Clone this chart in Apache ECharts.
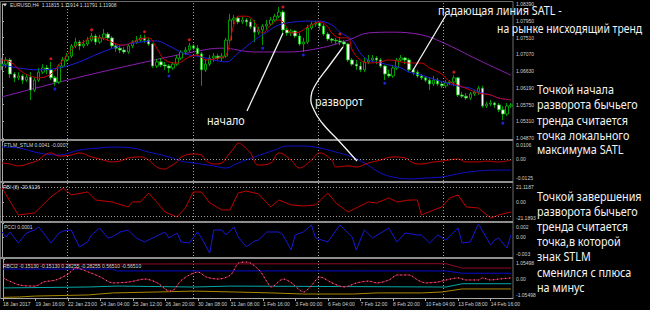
<!DOCTYPE html>
<html><head><meta charset="utf-8">
<script src="https://cdn.jsdelivr.net/npm/echarts@6/dist/echarts.min.js"></script>
<style>html,body{margin:0;padding:0;background:#000}#c{width:650px;height:310px}</style>
</head><body><div id="c"></div>
<script>
// ---------- DATA ----------
const openP = [1.0676,1.0681,1.0692,1.0655,1.0645,1.0650,1.0639,1.0647,1.0613,1.0639,
1.0660,1.0671,1.0666,1.0645,1.0634,1.0676,1.0692,1.0702,1.0729,1.0739,
1.0729,1.0734,1.0744,1.0755,1.0739,1.0750,1.0760,1.0750,1.0729,1.0723,
1.0718,1.0713,1.0729,1.0739,1.0744,1.0750,1.0744,1.0734,1.0676,1.0687,
1.0679,1.0676,1.0671,1.0681,1.0697,1.0713,1.0718,1.0729,1.0723,1.0708,
1.0666,1.0681,1.0697,1.0702,1.0697,1.0702,1.0744,1.0797,1.0802,1.0792,
1.0797,1.0792,1.0779,1.0765,1.0771,1.0781,1.0786,1.0797,1.0807,1.0818,
1.0771,1.0763,1.0768,1.0755,1.0734,1.0739,1.0776,1.0786,1.0789,1.0781,
1.0760,1.0747,1.0744,1.0742,1.0739,1.0734,1.0692,1.0681,1.0676,1.0666,
1.0687,1.0692,1.0697,1.0692,1.0676,1.0655,1.0650,1.0671,1.0692,1.0697,
1.0692,1.0666,1.0660,1.0650,1.0645,1.0639,1.0629,1.0639,1.0629,1.0624,
1.0632,1.0634,1.0645,1.0600,1.0597,1.0592,1.0603,1.0608,1.0618,1.0571,
1.0576,1.0579,1.0574,1.0561,1.0550,1.0571];
const closeP = [1.0681,1.0692,1.0655,1.0645,1.0650,1.0639,1.0647,1.0613,1.0639,1.0660,
1.0671,1.0666,1.0645,1.0634,1.0676,1.0692,1.0702,1.0729,1.0739,1.0729,
1.0734,1.0744,1.0755,1.0739,1.0750,1.0760,1.0750,1.0729,1.0723,1.0718,
1.0713,1.0729,1.0739,1.0744,1.0750,1.0744,1.0734,1.0676,1.0687,1.0679,
1.0676,1.0671,1.0681,1.0697,1.0713,1.0718,1.0729,1.0723,1.0708,1.0666,
1.0681,1.0697,1.0702,1.0697,1.0702,1.0744,1.0797,1.0802,1.0792,1.0797,
1.0792,1.0779,1.0765,1.0771,1.0781,1.0786,1.0797,1.0807,1.0818,1.0771,
1.0763,1.0768,1.0755,1.0734,1.0739,1.0776,1.0786,1.0789,1.0781,1.0760,
1.0747,1.0744,1.0742,1.0739,1.0734,1.0692,1.0681,1.0676,1.0666,1.0687,
1.0692,1.0697,1.0692,1.0676,1.0655,1.0650,1.0671,1.0692,1.0697,1.0692,
1.0666,1.0660,1.0650,1.0645,1.0639,1.0629,1.0639,1.0629,1.0624,1.0632,
1.0634,1.0645,1.0600,1.0597,1.0592,1.0603,1.0608,1.0618,1.0571,1.0576,
1.0579,1.0574,1.0561,1.0550,1.0571,1.0574];
const lowP = [1.0666,1.0671,1.0645,1.0634,1.0639,1.0629,1.0634,1.0587,1.0608,1.0634,
1.0655,1.0655,1.0639,1.0624,1.0629,1.0671,1.0687,1.0697,1.0723,1.0718,
1.0723,1.0729,1.0739,1.0731,1.0734,1.0744,1.0742,1.0723,1.0713,1.0710,
1.0708,1.0708,1.0723,1.0734,1.0739,1.0737,1.0729,1.0671,1.0671,1.0673,
1.0666,1.0658,1.0666,1.0676,1.0692,1.0705,1.0713,1.0718,1.0702,1.0624,
1.0660,1.0676,1.0687,1.0692,1.0687,1.0697,1.0739,1.0786,1.0786,1.0786,
1.0781,1.0773,1.0739,1.0758,1.0731,1.0771,1.0781,1.0792,1.0802,1.0763,
1.0755,1.0755,1.0750,1.0729,1.0713,1.0734,1.0771,1.0779,1.0771,1.0755,
1.0742,1.0737,1.0734,1.0731,1.0726,1.0687,1.0676,1.0666,1.0660,1.0660,
1.0681,1.0687,1.0681,1.0671,1.0639,1.0645,1.0645,1.0666,1.0687,1.0681,
1.0660,1.0652,1.0645,1.0639,1.0634,1.0613,1.0624,1.0624,1.0618,1.0618,
1.0626,1.0624,1.0595,1.0592,1.0587,1.0587,1.0597,1.0600,1.0566,1.0566,
1.0571,1.0566,1.0555,1.0534,1.0545,1.0566];
const highP = [1.0697,1.0700,1.0697,1.0660,1.0660,1.0655,1.0655,1.0660,1.0645,1.0671,
1.0681,1.0679,1.0687,1.0650,1.0681,1.0700,1.0710,1.0734,1.0750,1.0744,
1.0744,1.0752,1.0763,1.0760,1.0758,1.0773,1.0765,1.0755,1.0734,1.0731,
1.0726,1.0734,1.0744,1.0755,1.0758,1.0758,1.0750,1.0737,1.0695,1.0697,
1.0687,1.0681,1.0687,1.0705,1.0718,1.0726,1.0737,1.0734,1.0731,1.0713,
1.0692,1.0705,1.0710,1.0708,1.0710,1.0750,1.0813,1.0810,1.0807,1.0805,
1.0802,1.0800,1.0797,1.0779,1.0786,1.0797,1.0805,1.0813,1.0831,1.0823,
1.0776,1.0773,1.0771,1.0763,1.0750,1.0784,1.0792,1.0794,1.0792,1.0786,
1.0765,1.0750,1.0750,1.0752,1.0744,1.0737,1.0697,1.0692,1.0687,1.0697,
1.0705,1.0705,1.0702,1.0697,1.0679,1.0666,1.0679,1.0697,1.0705,1.0700,
1.0697,1.0671,1.0666,1.0655,1.0650,1.0645,1.0650,1.0645,1.0634,1.0639,
1.0639,1.0652,1.0647,1.0608,1.0605,1.0608,1.0613,1.0624,1.0624,1.0582,
1.0587,1.0582,1.0579,1.0571,1.0579,1.0579];

// time-axis tick labels: [bar index, text]
const timeTicks = [[0,'18 Jan 2017'],[8,'19 Jan 16:00'],[16,'22 Jan 23:00'],[24,'24 Jan 04:00'],
[32,'25 Jan 12:00'],[40,'26 Jan 20:00'],[48,'30 Jan 08:00'],[56,'31 Jan 08:00'],[64,'1 Feb 16:00'],
[72,'3 Feb 00:00'],[80,'6 Feb 04:00'],[88,'7 Feb 12:00'],[96,'8 Feb 20:00'],[104,'10 Feb 04:00'],
[112,'13 Feb 08:00'],[120,'14 Feb 16:00']];
const priceTicks = [1.0487,1.0531,1.0575,1.0619,1.0663,1.0707,1.0751,1.0795,1.0839];

// main-window lines [bar, price]
const fastLine = [[0,1.0692],[2,1.0687],[5,1.0660],[7,1.0650],[9,1.0645],[12,1.0655],[14,1.0679],[16,1.0705],[18,1.0729],[20,1.0739],[22,1.0750],[24,1.0750],[26,1.0744],[28,1.0734],[30,1.0731],[32,1.0739],[34,1.0747],[36,1.0750],[38,1.0723],[40,1.0692],[43,1.0684],[46,1.0700],[48,1.0705],[50,1.0692],[53,1.0697],[55,1.0705],[56,1.0744],[57,1.0786],[58,1.0807],[60,1.0807],[62,1.0792],[63,1.0771],[64,1.0763],[66,1.0784],[68,1.0797],[69,1.0792],[70,1.0776],[71,1.0763],[73,1.0765],[75,1.0779],[76,1.0784],[78,1.0792],[80,1.0779],[81,1.0763],[83,1.0750],[85,1.0750],[86,1.0718],[88,1.0692],[90,1.0684],[93,1.0687],[95,1.0692],[98,1.0687],[100,1.0684],[103,1.0684],[105,1.0671],[108,1.0655],[110,1.0634],[112,1.0626],[115,1.0613],[117,1.0605],[120,1.0600],[122,1.0592],[125,1.0587]];
const satlLine = [[0,1.0679],[4,1.0671],[9,1.0666],[14,1.0671],[19,1.0687],[24,1.0710],[29,1.0729],[34,1.0739],[38,1.0742],[41,1.0729],[45,1.0708],[49,1.0700],[52,1.0692],[55,1.0687],[58,1.0710],[62,1.0744],[65,1.0765],[68,1.0784],[72,1.0792],[75,1.0794],[78,1.0794],[81,1.0784],[83,1.0765],[86,1.0744],[88,1.0710],[90,1.0692],[93,1.0684],[95,1.0679],[98,1.0671],[100,1.0660],[103,1.0652],[106,1.0642],[109,1.0632],[113,1.0621],[115,1.0618],[117,1.0608],[120,1.0600],[122,1.0592],[125,1.0587]];
const longMA = [[0,1.0595],[16,1.0639],[32,1.0679],[47,1.0713],[54,1.0723],[62,1.0713],[70,1.0713],[78,1.0723],[85,1.0744],[90,1.0763],[96,1.0765],[103,1.0758],[108,1.0739],[117,1.0692],[125,1.0652]];
const fractalUp = [[12,1.0695],[22,1.0771],[35,1.0766],[46,1.0745],[69,1.0831],[83,1.0760],[111,1.0660]];
const fractalDown = [[13,1.0616],[41,1.0650],[64,1.0723],[74,1.0705],[94,1.0631],[123,1.0526]];

// FTLM_STLM window
const ftlmLine = [[0,-0.0021],[2,-0.0027],[4,-0.0038],[7,-0.0021],[9,-0.0004],[10,0.0019],[12,0.0037],[14,0.0019],[17,0.0025],[19,0.0037],[22,0.0014],[24,0.0002],[27,-0.0015],[29,-0.0010],[31,0.0008],[34,0.0014],[36,-0.0004],[38,-0.0044],[40,-0.0056],[41,-0.0044],[43,-0.0015],[44,0.0014],[47,0.0031],[49,0.0025],[50,-0.0004],[52,-0.0027],[54,-0.0021],[55,0.0008],[57,0.0066],[58,0.0094],[59,0.0083],[61,0.0037],[63,-0.0033],[66,-0.0021],[68,0.0037],[71,-0.0004],[73,-0.0050],[76,-0.0004],[78,0.0037],[81,-0.0004],[82,-0.0044],[85,-0.0038],[87,-0.0044],[90,-0.0021],[93,-0.0004],[96,0.0014],[99,0.0008],[101,-0.0021],[103,-0.0027],[106,-0.0015],[108,-0.0010],[112,0.0002],[114,-0.0015],[117,-0.0015],[119,-0.0010],[122,-0.0015],[125,-0.0004]];
const stlmLine = [[0,0.0071],[4,0.0066],[9,0.0037],[14,0.0025],[19,0.0054],[24,0.0066],[27,0.0071],[32,0.0066],[36,0.0042],[41,0.0014],[44,-0.0010],[47,-0.0021],[52,-0.0038],[55,-0.0050],[58,-0.0021],[62,0.0014],[67,0.0054],[70,0.0077],[74,0.0077],[78,0.0066],[82,0.0042],[86,0.0014],[89,-0.0021],[93,-0.0079],[96,-0.0102],[100,-0.0113],[104,-0.0108],[108,-0.0102],[113,-0.0079],[117,-0.0067],[121,-0.0062],[125,-0.0062]];
const ftlmTicks = [[0.0106,'0.0106'],[0,'0.00'],[-0.0125,'-0.0125']];

// RBI window
const rbiLine = [[0,15.6],[4,-14.5],[8,-12.2],[12,5.6],[15,15.6],[17,7.8],[21,11.1],[23,2.2],[27,0],[31,-5.6],[32,0],[34,0],[36,10.0],[38,0],[40,-11.1],[43,-16.7],[45,-6.7],[47,11.1],[49,11.1],[51,-1.1],[54,-8.9],[56,-8.9],[58,10.0],[60,12.2],[63,8.9],[66,-5.6],[68,2.2],[71,-3.3],[74,-4.5],[77,-3.3],[80,10.0],[82,-1.1],[85,-11.1],[87,-6.7],[90,0],[92,-1.1],[95,4.5],[97,0],[100,2.2],[102,2.2],[103,-14.5],[106,-8.9],[108,-5.6],[110,4.5],[112,7.8],[114,-5.6],[117,-6.7],[120,-17.8],[122,-14.5],[125,-11.1]];
const rbiTicks = [[21.1187,'21.1187'],[0,'0.00'],[-21.1893,'-21.1893']];
const rbiLevels = [16.7,-15.6];

// PCCI window
const pcciLine = [[0,0.00089],[1,0],[2,0.00089],[4,-0.00107],[6,0.00071],[8,0.00125],[9,0.00178],[10,0.00089],[12,-0.00107],[14,0.00071],[15,0.00107],[17,0.00125],[19,-0.00178],[21,-0.00089],[22,0.00036],[24,0.0016],[26,-0.00018],[27,0],[29,0.00089],[31,0.00125],[33,-0.00018],[35,-0.00089],[37,-0.00018],[40,0.00089],[41,-0.00018],[43,0.00071],[44,-0.00089],[46,-0.00107],[48,0.00089],[49,-0.00018],[51,-0.00285],[52,0.00125],[54,0.00125],[55,0.00036],[57,0.00178],[58,0],[60,-0.00178],[62,-0.00071],[63,-0.00053],[65,0.00089],[68,0.00089],[69,0.00036],[71,-0.00231],[72,0.00036],[74,0.00089],[76,0.00214],[77,-0.00018],[80,-0.00089],[83,0.00214],[86,0],[87,-0.00231],[89,0.00125],[91,-0.00018],[95,0.0016],[97,-0.00089],[99,0.00071],[102,0.00036],[103,0.00036],[105,-0.00107],[107,0.00036],[109,-0.00053],[112,0.0016],[113,-0.00107],[115,-0.00089],[117,0.00231],[120,-0.00142],[121,-0.00053],[122,-0.00018],[124,-0.00196],[125,0.00036]];
const pcciTicks = [[0.00249,'0.002'],[0,'0.00'],[-0.00356,'-0.003']];

// RBCI2 window
const rbciLine = [[0,0.03],[4,-0.35],[8,-0.41],[10,-0.19],[13,-0.08],[16,0.24],[18,0.57],[21,0.35],[24,0.08],[27,-0.24],[31,-0.19],[35,-0.03],[38,-0.24],[41,-0.68],[42,-0.62],[44,-0.08],[48,0.35],[50,0.08],[53,-0.03],[56,0.19],[58,0.84],[60,0.89],[63,0.46],[65,-0.19],[66,-0.46],[69,-0.03],[71,-0.24],[74,-0.73],[76,-0.35],[78,0.08],[81,-0.24],[84,-0.46],[87,-0.24],[90,-0.14],[92,-0.24],[95,-0.08],[97,0.19],[100,0.19],[102,-0.08],[104,-0.24],[107,-0.19],[109,-0.08],[112,0.03],[114,-0.08],[117,-0.08],[118,0.03],[120,-0.08],[122,-0.03],[125,0.03]];
const rbciUp2 = [[0,0.78],[109,0.80],[113,0.5651],[125,0.5651]];
const rbciUp1 = [[0,0.51],[27,0.51],[28,0.41],[109,0.41],[113,0.2826],[125,0.2826]];
const rbciDn1 = [[0,-0.51],[21,-0.46],[28,-0.41],[47,-0.46],[56,-0.41],[109,-0.46],[113,-0.2826],[125,-0.2826]];
const rbciDn2 = [[0,-1.02],[4,-1.0],[8,-0.95],[21,-0.89],[27,-0.78],[38,-0.73],[47,-0.68],[57,-0.73],[66,-0.78],[74,-0.84],[86,-0.84],[92,-0.78],[103,-0.78],[108,-0.73],[113,-0.5651],[125,-0.5651]];
const rbciTicks = [[1.05498,'1.05498'],[0,'0.00'],[-1.05498,'-1.05498']];

// ---------- CHART ----------
const N = openP.length;
const tickMap = {}; timeTicks.forEach(t => tickMap[t[0]] = t[1]);
const cats = openP.map((_, i) => tickMap[i] || '');
const candles = openP.map((o, i) => [o, closeP[i], lowP[i], highP[i]]);

const AX = '#a8a8a8', TXT = '#d0d0d0', SF = 'Liberation Sans';
const grids = [
  {left:0, top:4, width:513, height:134},
  {left:0, top:141, width:513, height:40},
  {left:0, top:183, width:513, height:38},
  {left:0, top:223, width:513, height:34},
  {left:0, top:259, width:513, height:39}
];
const vx = g => ({type:'value', gridIndex:g, min:-0.5, max:N-0.5, show:false});
const xAxes = [
  {type:'category', gridIndex:0, data:cats, show:false},
  vx(0), vx(1), vx(2), vx(3), vx(4),
  {type:'category', gridIndex:4, data:cats, position:'bottom',
   axisLine:{show:true, lineStyle:{color:AX}},
   axisTick:{show:true, alignWithLabel:true, length:3, interval:(i, v) => v !== '', lineStyle:{color:AX}},
   axisLabel:{interval:0, align:'left', fontSize:5, color:TXT, margin:3, fontFamily:SF},
   splitLine:{show:false}}
];
const lblStyle = {fontSize:5, color:TXT, fontFamily:SF};
function yAx(g, min, max, ticks) {
  const vals = ticks.map(t => t[0]);
  const lab = {}; ticks.forEach(t => lab[t[0]] = t[1]);
  const sub = g > 0;
  return {type:'value', gridIndex:g, position:'right', min:min, max:max,
    splitLine:{show:false},
    axisLine:{show:true, lineStyle:{color:AX}},
    axisTick:{show:true, length:2, customValues:vals, lineStyle:{color:AX}},
    axisLabel:{customValues:vals, showMinLabel:true, showMaxLabel:true,
      formatter: v => {
        const t = lab[v] !== undefined ? lab[v] : v.toFixed(5);
        if (sub && v === max) return '{t|' + t + '}';
        if (sub && v === min) return '{b|' + t + '}';
        return t;
      },
      fontSize:5, color:TXT, margin:3, fontFamily:SF,
      rich:{t:Object.assign({padding:[7,0,0,0]}, lblStyle), b:Object.assign({padding:[0,0,7,0]}, lblStyle)}}};
}
const yAxes = [
  yAx(0, 1.0487, 1.0839, priceTicks.map(v => [v, v.toFixed(5)])),
  yAx(1, -0.0125, 0.0106, ftlmTicks),
  yAx(2, -21.1893, 21.1187, rbiTicks),
  yAx(3, -0.00356, 0.00249, pcciTicks),
  yAx(4, -1.05498, 1.05498, rbciTicks)
];
function line(data, xi, yi, color, opts) {
  return Object.assign({type:'line', data:data, xAxisIndex:xi, yAxisIndex:yi, symbol:'none',
    lineStyle:{color:color, width:1}, itemStyle:{color:color}, silent:true, z:3}, opts || {});
}
const dotted = lv => ({silent:true, symbol:'none', label:{show:false},
  lineStyle:{type:[1,2], color:'#9a9a9a', width:1}, data: lv.map(v => ({yAxis:v}))});

const series = [
  line(longMA, 1, 0, '#8a1fb0', {smooth:0.4}),
  {type:'candlestick', data:candles, xAxisIndex:0, yAxisIndex:0, barWidth:3, silent:true, z:4,
   itemStyle:{color:'#000000', color0:'#ffffff', borderColor:'#00c000', borderColor0:'#00c000', borderWidth:0.8}},
  line(satlLine, 1, 0, '#1e1ee0', {smooth:0.4, z:5}),
  line(fastLine, 1, 0, '#d00000', {smooth:0.4, z:5}),
  {type:'scatter', data:fractalUp, xAxisIndex:1, yAxisIndex:0, symbol:'circle', symbolSize:3, itemStyle:{color:'#ff2020'}, silent:true, z:6},
  {type:'scatter', data:fractalDown, xAxisIndex:1, yAxisIndex:0, symbol:'circle', symbolSize:3, itemStyle:{color:'#2030ff'}, silent:true, z:6},
  line(stlmLine, 2, 1, '#1010c8', {smooth:0.4, markLine:dotted([0])}),
  line(ftlmLine, 2, 1, '#c80000', {smooth:0.4}),
  line(rbiLine, 3, 2, '#c00000', {markLine:dotted(rbiLevels)}),
  line(pcciLine, 4, 3, '#1818d8'),
  line(rbciUp2, 5, 4, '#900a2a'),
  line(rbciUp1, 5, 4, '#0a0ad0'),
  line(rbciDn1, 5, 4, '#00a8a8'),
  line(rbciDn2, 5, 4, '#a88800'),
  line(rbciLine, 5, 4, '#a01030', {smooth:0.3}),
  line(rbciLine, 5, 4, '#ff8aa8', {smooth:0.3, lineStyle:{color:'#ff8aa8', width:1, type:[1,3]}, z:4})
];

// ---------- DECORATION & ANNOTATIONS ----------
const g = [];
g.push({type:'rect', shape:{x:0.5, y:1.5, width:512.5, height:297}, style:{fill:'none', stroke:'#6a6a6a', lineWidth:1}, z:0, silent:true});
[67, 193, 318, 443].forEach(x => g.push({type:'line', shape:{x1:x+0.5, y1:3, x2:x+0.5, y2:298},
  style:{stroke:'#a0a0a0', lineWidth:1, lineDash:[1,2]}, z:1, silent:true}));
[139, 181, 221, 257].forEach(y => g.push({type:'rect', shape:{x:0, y:y, width:513, height:2},
  style:{fill:'#8e8e8e'}, z:50, silent:true}));
const smallT = (x, y, t) => ({type:'text', x:x, y:y, z:60, silent:true,
  style:{text:t, fill:'#d8d8d8', font:'5px "Liberation Sans"', verticalAlign:'middle'}});
g.push({type:'polygon', shape:{points:[[3,3.5],[7,3.5],[5,6.5]]}, style:{fill:'#d8d8d8'}, z:60, silent:true});
g.push(smallT(10, 5, 'EURUSD,H4  1.11815 1.11914 1.11791 1.11908'));
g.push(smallT(4, 144.5, 'FTLM_STLM 0.0041 -0.0007'));
g.push(smallT(3, 186.5, 'RBI (8) -20.6126'));
g.push(smallT(4, 226.5, 'PCCI 0.0001'));
g.push(smallT(3, 266, 'RBCI2 -0.15130 -0.15130 0.28255 -0.28255 0.56510 -0.56510'));

const W = '#f4f4f4';
const bigT = (x, y, t, sx) => ({type:'text', x:x, y:y, z:100, silent:true, scaleX:sx || 0.83,
  style:{text:t, fill:W, font:'13px "Noto Sans"', verticalAlign:'middle'}});
g.push({type:'line', shape:{x1:247, y1:111, x2:283, y2:33}, style:{stroke:W, lineWidth:1.3}, z:100, silent:true});
g.push({type:'polyline', shape:{points:[[343,47],[329,66],[316,84],[311,97],[314,110],[323,124],[338,140],[357,161]], smooth:0.5},
  style:{stroke:W, lineWidth:1.3, fill:'none'}, z:100, silent:true});
g.push({type:'line', shape:{x1:446, y1:15, x2:412, y2:72}, style:{stroke:W, lineWidth:1.3}, z:100, silent:true});
g.push(bigT(207, 120, 'начало'));
g.push(bigT(315, 101, 'разворот'));
g.push(bigT(438, 10, 'падающая линия SATL -'));
g.push(bigT(497, 27, 'на рынке нисходящий тренд', 0.8));
[['Точкой начала',89],['разворота бычьего',104],['тренда считается',120],['точка локального',135],['максимума SATL',149],
 ['Точкой завершения',196],['разворота бычьего',211],['тренда считается',226],['точка,в которой',241],['знак STLM',256],
 ['сменился с плюса',272],['на минус',287]].forEach(r => g.push(bigT(537, r[1], r[0])));

const chart = echarts.init(document.getElementById('c'), null, {renderer:'svg', width:650, height:310});
chart.setOption({
  backgroundColor:'#000000', animation:false,
  grid:grids, xAxis:xAxes, yAxis:yAxes, series:series, graphic:g
});
</script>
</body></html>
